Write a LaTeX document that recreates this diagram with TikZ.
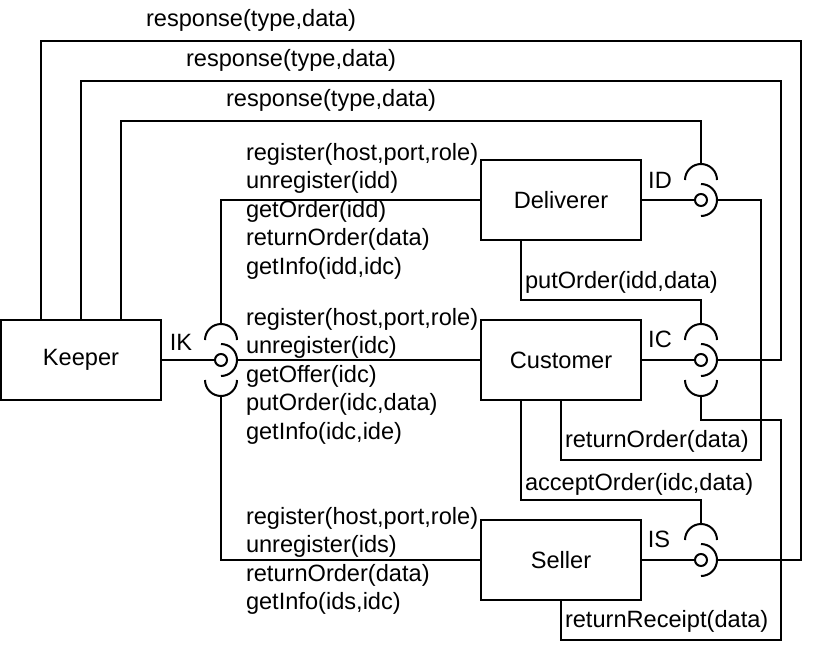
\documentclass[tikz,border=0pt]{standalone}
\usepackage{fontspec}
\setmainfont{Liberation Sans}
\usetikzlibrary{calc,positioning}
\newcommand\sockright[1]{\draw ([yshift=8pt]#1.center) arc[start angle=90, end angle=-90, radius=8pt];}
\newcommand\sockup[1]{\draw ([shift={(-8pt,10pt)}]#1.center) arc[start angle=180, end angle=0, radius=8pt];}
\newcommand\sockdown[1]{\draw ([shift={(-8pt,-10pt)}]#1.center) arc[start angle=180, end angle=360, radius=8pt];}

\begin{document}
\begin{tikzpicture}[x=0.5pt, y=-0.5pt, line width=1pt,
		every node/.style={font=\fontsize{11.8}{14.25}\selectfont},
		comp/.style={draw, minimum width=80pt, minimum height=40pt, inner sep=0pt},
		ball/.style={draw, circle, minimum size=6pt, inner sep=0pt},
		ops/.style={align=left, inner sep=0pt, anchor=west},
		msg/.style={inner sep=0pt, anchor=west}]
			%%%%% START %%%%%
			\useasboundingbox (0, 0) rectangle (818, 658);
			
			\node[comp] (keeper) at (81, 360) {Keeper};
			\node[comp] (deliverer) at (561, 200) {Deliverer};
			\node[comp] (customer) at (561, 360) {Customer};
			\node[comp] (seller) at (561, 560) {Seller};
			
			\node[ball] (IKb) at (221, 360) {};
			\node[ball] (IDb) at (701, 200) {};
			\node[ball] (ICb) at (701, 360) {};
			\node[ball] (ISb) at (701, 560) {};
			
			\node (IK) at (181, 342) {IK};
			\node (ID) at (660, 180) {ID};
			\node (IC) at (660, 339) {IC};
			\node (IS) at (659, 539) {IS};
			
			\foreach \i in {IK, ID, IC, IS} {
				\coordinate (\i r) at ([xshift=8pt]\i b.center);
				\coordinate (\i t) at ([yshift=18pt]\i b.center);
				\coordinate (\i d) at ([yshift=-18pt]\i b.center);
				\sockright{\i b}
				\sockup{\i b}
			}
			\sockdown{IKb}
			\sockdown{ICb}
			
			\draw (keeper) -- (IKb);
			\draw (IKr) -- (customer.west);
			\draw (IKt) |- (deliverer.west);
			\draw (IKd) |- (seller.west);
			
			\draw (deliverer) -- (IDb);
			\draw (customer) -- (ICb);
			\draw (seller) -- (ISb);
			
			% responses back to keeper
			\draw (ISr) -- ++(84, 0) -- ++(0, -519) -| ([xshift=-20pt]keeper.north);
			\draw (ICr) -- ++(64, 0) -- ++(0, -279) -| (keeper.north);
			\draw (IDt) -- ++(0, -43) -| ([xshift=20pt]keeper.north);
			
			\draw (IDr) -- ++(44, 0) -- ++(0, 260) -| (customer.south);
			\draw (ICt) -- ++(0, -24) -| ([xshift=-20pt]deliverer.south);
			\draw (ICd) -- ++(0, 24) -- ++(80, 0) -- ++(0, 220) -| (seller.south);
			\draw (ISt) -- ++(0, -24) -| ([xshift=-20pt]customer.south);
			
			\node (resp1) at (251, 20) {response(type,data)};
			\node (resp2) at (291, 60) {response(type,data)};
			\node (resp3) at (331, 100) {response(type,data)};
			
			\node[ops] (dops) at (245, 211) {register(host,port,role)\\unregister(idd)\\getOrder(idd)\\returnOrder(data)\\getInfo(idd,idc)};
			\node[ops] (cops) at (245, 376) {register(host,port,role)\\unregister(idc)\\getOffer(idc)\\putOrder(idc,data)\\getInfo(idc,ide)};
			\node[ops] (sops) at (245, 561) {register(host,port,role)\\unregister(ids)\\returnOrder(data)\\getInfo(ids,idc)};
			
			\node[msg] (put) at (524, 282) {putOrder(idd,data)};
			\node[msg] (ret) at (564, 441) {returnOrder(data)};
			\node[msg] (acc) at (524, 484) {acceptOrder(idc,data)};
			\node[msg] (rec) at (564, 621) {returnReceipt(data)};
			
			%%%%% END %%%%%
\end{tikzpicture}
\end{document}
